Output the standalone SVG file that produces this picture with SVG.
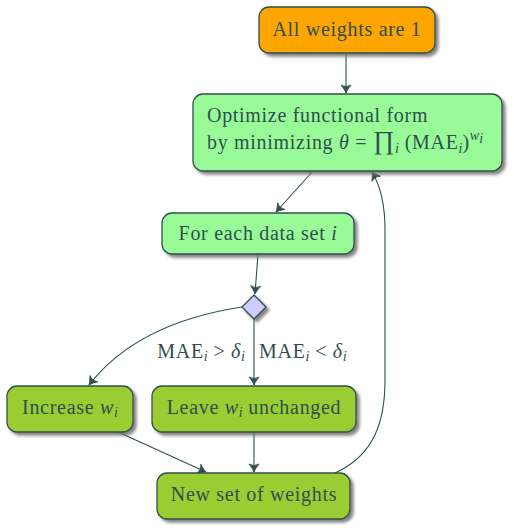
<svg xmlns="http://www.w3.org/2000/svg" width="514" height="532" viewBox="0 0 514 532">
<defs>
<filter id="sh" x="-20%" y="-20%" width="140%" height="150%">
<feDropShadow dx="3" dy="3" stdDeviation="1.5" flood-color="#707070" flood-opacity="0.85"/>
</filter>
<marker id="ah" viewBox="-10 -6 12 12" refX="0" refY="0" markerWidth="12" markerHeight="12" markerUnits="userSpaceOnUse" orient="auto">
<path d="M-8,-5 Q-3,-1 0,0 Q-3,1 -8,5 Q-5,0 -8,-5 Z" fill="#2F4F4F" stroke="#2F4F4F" stroke-width="0.8" stroke-linejoin="round"/>
</marker>
<style>
.n{stroke:#2F4F4F;stroke-width:1.3;filter:url(#sh)}
.t{font-family:"Liberation Serif",serif;font-size:20px;letter-spacing:0.7px;fill:#2F4F4F}
.c{fill:none;stroke:#2F4F4F;stroke-width:1.1;marker-end:url(#ah)}
.m{font-style:italic}
.s{font-style:italic;font-size:14px;letter-spacing:0}
</style>
</defs>
<rect width="514" height="532" fill="#fff"/>
<g id="connectors">
<path class="c" d="M346,53 L346,93"/>
<path class="c" d="M313,171 L276,212"/>
<path class="c" d="M258,254 L255,294"/>
<path class="c" d="M254,319 L254,385"/>
<path class="c" d="M242,307 C170,318 120,345 89,385"/>
<path class="c" d="M118,432 L206,472"/>
<path class="c" d="M254,432 L254,472"/>
<path class="c" d="M335,473 C375,455 385,420 385,380 L385,230 C385,205 380,185 372,172"/>
</g>
<g id="n1">
<rect class="n" x="259" y="7" width="176" height="46" rx="10" fill="#FFA500"/>
<text class="t" x="347" y="36" text-anchor="middle">All weights are 1</text>
</g>
<g id="n2">
<rect class="n" x="193" y="94" width="309" height="77" rx="10" fill="#98FB98"/>
<text class="t" x="207" y="122">Optimize functional form</text>
<text class="t" x="207" y="149">by minimizing <tspan class="m">θ</tspan> = <tspan font-size="26">∏</tspan><tspan class="s" dy="4">i</tspan><tspan dy="-4"> (MAE</tspan><tspan class="s" dy="4">i</tspan><tspan dy="-4">)</tspan><tspan class="s" dy="-9">w</tspan><tspan class="s" font-size="10" dy="3">i</tspan></text>
</g>
<g id="n3">
<rect class="n" x="162" y="213" width="192" height="41" rx="10" fill="#98FB98"/>
<text class="t" x="258" y="240" text-anchor="middle">For each data set <tspan class="m">i</tspan></text>
</g>
<g id="n4">
<path class="n" d="M254,295 L266,307 L254,319 L242,307 Z" fill="#CCCCFF"/>
</g>
<g id="labels">
<text class="t" x="245" y="358" text-anchor="end">MAE<tspan class="s" dy="3">i</tspan><tspan dy="-3"> &gt; </tspan><tspan class="m">δ</tspan><tspan class="s" dy="3">i</tspan></text>
<text class="t" x="259" y="358">MAE<tspan class="s" dy="3">i</tspan><tspan dy="-3"> &lt; </tspan><tspan class="m">δ</tspan><tspan class="s" dy="3">i</tspan></text>
</g>
<g id="n5">
<rect class="n" x="7" y="386" width="126" height="46" rx="10" fill="#9ACD32"/>
<text class="t" x="70" y="414" text-anchor="middle">Increase <tspan class="m">w</tspan><tspan class="s" dy="3">i</tspan></text>
</g>
<g id="n6">
<rect class="n" x="152" y="386" width="204" height="46" rx="10" fill="#9ACD32"/>
<text class="t" x="254" y="414" text-anchor="middle">Leave <tspan class="m">w</tspan><tspan class="s" dy="3">i</tspan><tspan dy="-3"> unchanged</tspan></text>
</g>
<g id="n7">
<rect class="n" x="157" y="473" width="193" height="46" rx="10" fill="#9ACD32"/>
<text class="t" x="254" y="501" text-anchor="middle">New set of weights</text>
</g>
</svg>
